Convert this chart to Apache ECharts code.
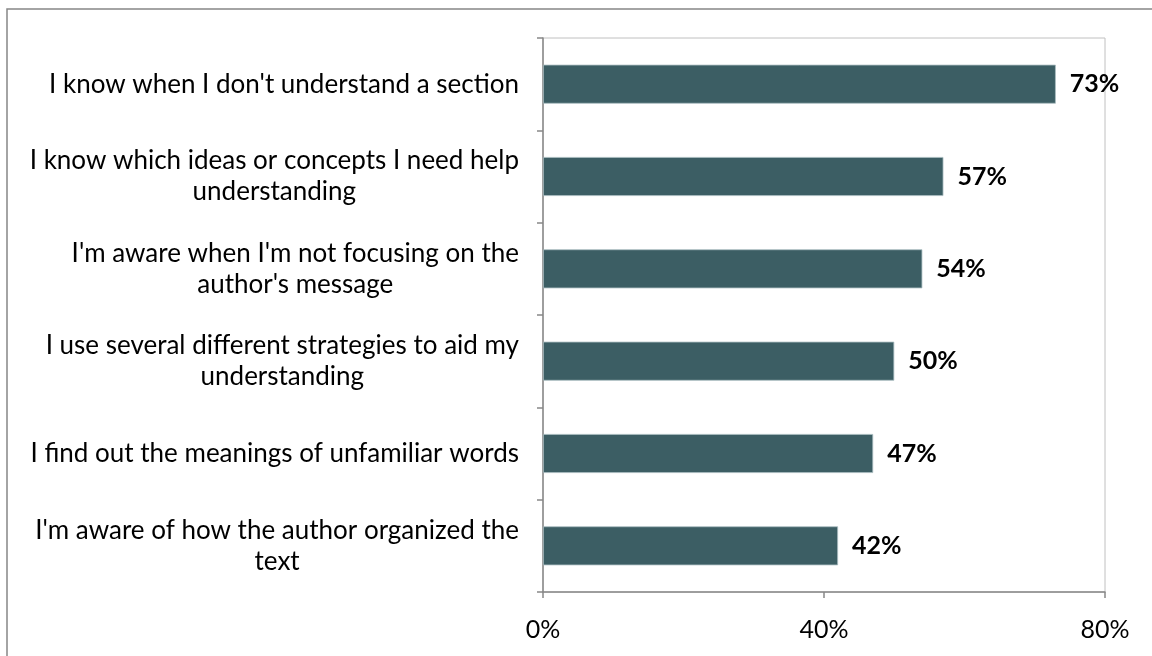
<!DOCTYPE html>
<html>
<head>
<meta charset="utf-8">
<script src="https://cdn.jsdelivr.net/npm/echarts@6/dist/echarts.min.js"></script>
<style>
html,body{margin:0;padding:0;background:#fff;}
#chart{width:1152px;height:656px;}
</style>
</head>
<body>
<div id="chart"></div>
<script>
const categories = [
  "I know when I don't understand a section",
  "I know which ideas or concepts I need help\nunderstanding",
  "I'm aware when I'm not focusing on the\nauthor's message",
  "I use several different strategies to aid my\nunderstanding",
  "I find out the meanings of unfamiliar words",
  "I'm aware of how the author organized the\ntext"
];
const values = [73, 57, 54, 50, 47, 42];
const xTicks = { min: 0, max: 80, interval: 40 };

const FONT = 'Lato';
const chart = echarts.init(document.getElementById('chart'));
chart.setOption({
  animation: false,
  backgroundColor: '#ffffff',
  graphic: [{
    type: 'rect',
    shape: { x: 7, y: 9, width: 1200, height: 700 },
    style: { fill: 'none', stroke: '#878787', lineWidth: 1.5 },
    silent: true
  }],
  grid: { left: 543, right: 47, top: 38, bottom: 64, show: true, borderColor: '#c0c0c0', borderWidth: 1, backgroundColor: 'transparent' },
  xAxis: {
    type: 'value',
    min: xTicks.min, max: xTicks.max, interval: xTicks.interval,
    axisLine: { show: true, lineStyle: { color: '#888888', width: 1.5 } },
    axisTick: { show: true, length: 6, lineStyle: { color: '#888888', width: 1.5 } },
    splitLine: { show: false },
    axisLabel: { formatter: '{value}%', color: '#000', fontFamily: FONT, fontSize: 25, margin: 25 }
  },
  yAxis: {
    type: 'category',
    data: categories,
    inverse: true,
    axisLine: { show: true, lineStyle: { color: '#888888', width: 1.5 } },
    axisTick: { show: true, length: 6, lineStyle: { color: '#888888', width: 1.5 } },
    axisLabel: {
      color: '#000', fontFamily: FONT, fontSize: 26, margin: 24, align: 'right',
      formatter: function (v) { return v.split('\n').map(function (l) { return '{c|' + l + '}'; }).join('\n'); },
      rich: { c: { align: 'center', color: '#000', fontFamily: FONT, fontSize: 26, lineHeight: 31 } }
    }
  },
  series: [{
    type: 'bar',
    data: values,
    barWidth: 39,
    itemStyle: { color: '#3c5e64', borderColor: '#a9bcc0', borderWidth: 0.8 },
    label: {
      show: true, position: 'right', distance: 14,
      formatter: '{c}%', color: '#000', fontFamily: FONT, fontWeight: 'bold', fontSize: 25
    }
  }]
});
</script>
</body>
</html>
